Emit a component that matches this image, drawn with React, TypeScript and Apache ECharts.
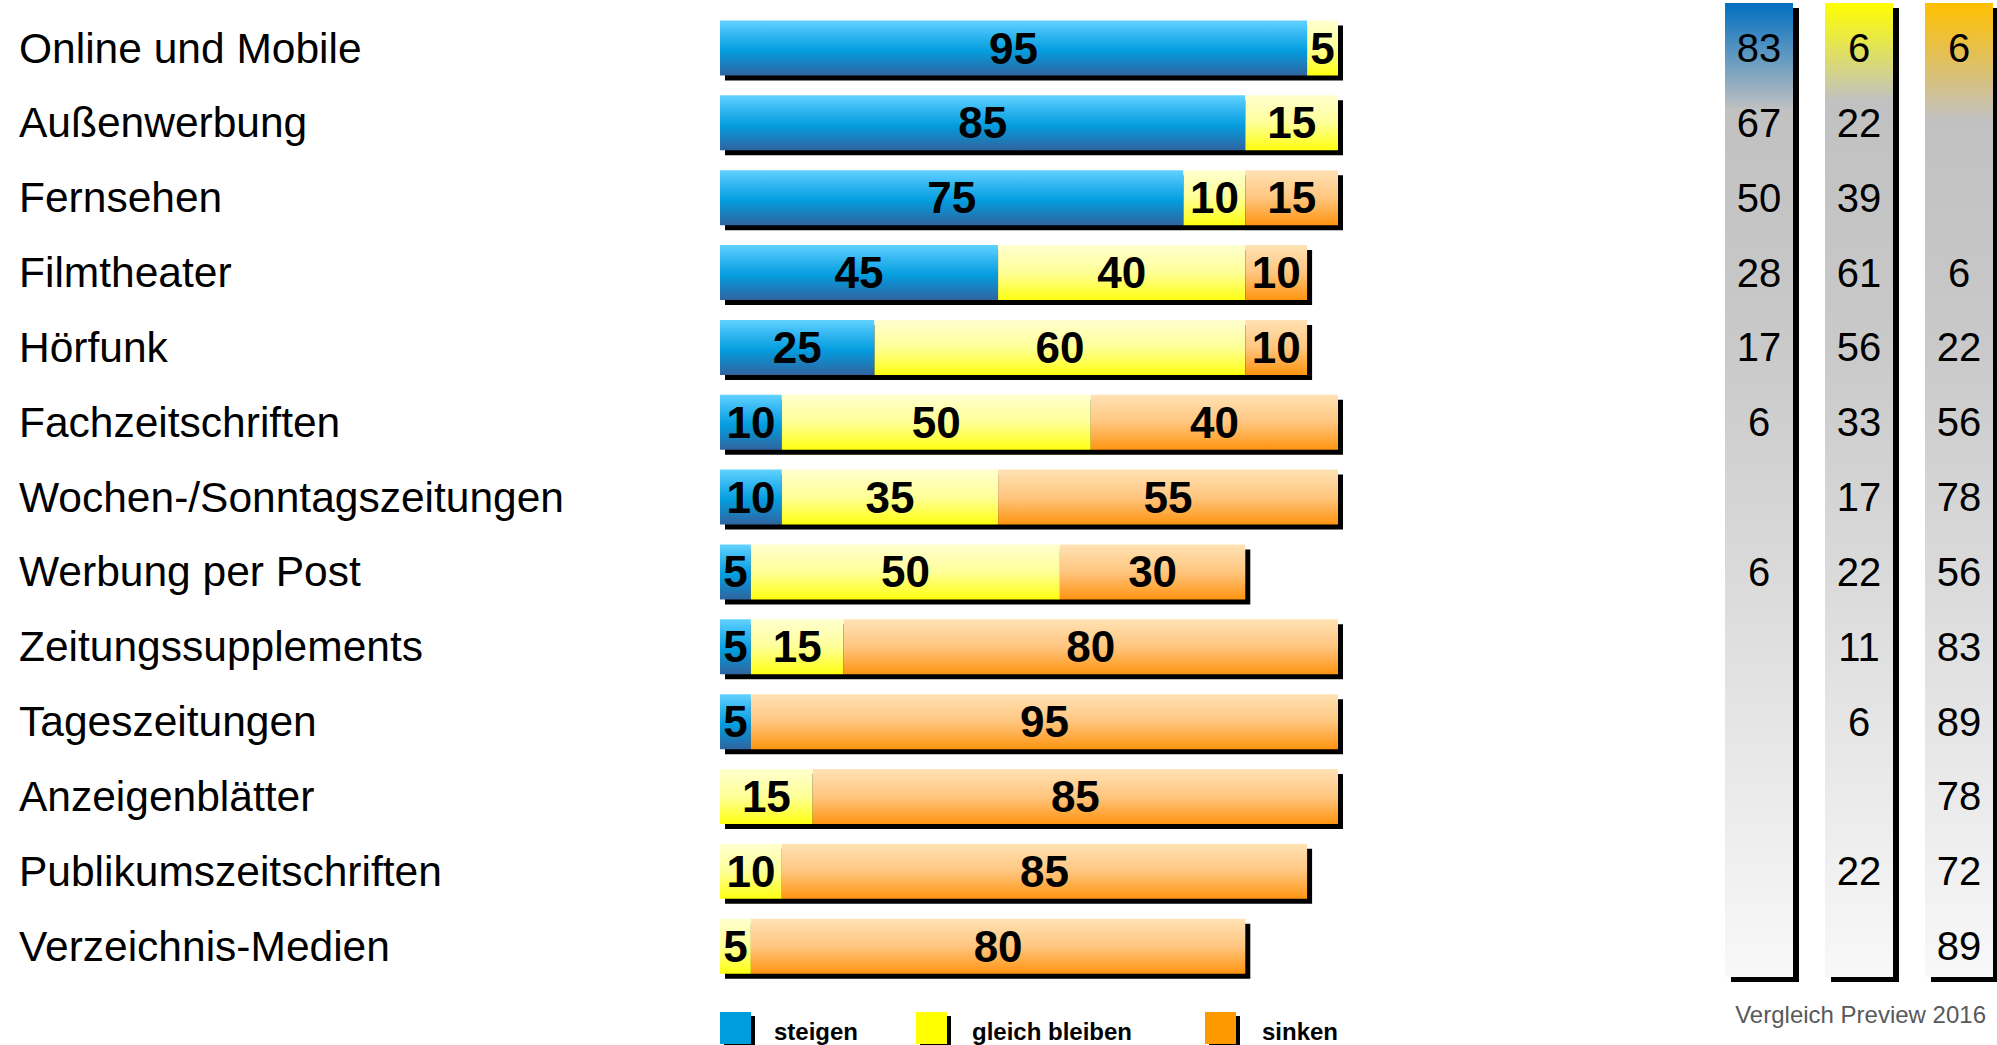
import React, { useEffect, useRef } from "react";
import * as echarts from "echarts";

// Media categories, top to bottom
const categories = [
  "Online und Mobile",
  "Außenwerbung",
  "Fernsehen",
  "Filmtheater",
  "Hörfunk",
  "Fachzeitschriften",
  "Wochen-/Sonntagszeitungen",
  "Werbung per Post",
  "Zeitungssupplements",
  "Tageszeitungen",
  "Anzeigenblätter",
  "Publikumszeitschriften",
  "Verzeichnis-Medien",
];

// Current outlook (%)
const steigen = [95, 85, 75, 45, 25, 10, 10, 5, 5, 5, 0, 0, 0];
const gleichBleiben = [5, 15, 10, 40, 60, 50, 35, 50, 15, 0, 15, 10, 5];
const sinken = [0, 0, 15, 10, 10, 40, 55, 30, 80, 95, 85, 85, 80];

// Comparison: Preview 2016 (%), null = no value
const previewColumns = ["steigen", "gleich bleiben", "sinken"];
const preview2016Steigen = [83, 67, 50, 28, 17, 6, null, 6, null, null, null, null, null];
const preview2016Gleich = [6, 22, 39, 61, 56, 33, 17, 22, 11, 6, null, 22, null];
const preview2016Sinken = [6, null, null, 6, 22, 56, 78, 56, 83, 89, 78, 72, 89];

const legendLabels = ["steigen", "gleich bleiben", "sinken"];
const footnote = "Vergleich Preview 2016";

const W = 1997;
const H = 1045;
const GRID_TOP = 10.6;
const GRID_HEIGHT = 973;
const BAR_W = 55;
const SHADOW = 5;

const SANS = "'Liberation Sans', Arial, sans-serif";
const NARROW = "'Liberation Sans Narrow', 'Arial Narrow', sans-serif";

const vGrad = (stops: [number, string][]) =>
  new echarts.graphic.LinearGradient(
    0,
    0,
    0,
    1,
    stops.map(([offset, color]) => ({ offset, color }))
  );

const blueFill = () =>
  vGrad([
    [0, "#62d2ff"],
    [0.25, "#34b8f2"],
    [0.55, "#049ddf"],
    [1, "#2f649f"],
  ]);
const yellowFill = () =>
  vGrad([
    [0, "#ffffd0"],
    [0.5, "#ffff98"],
    [1, "#ffff10"],
  ]);
const orangeFill = () =>
  vGrad([
    [0, "#ffe2b4"],
    [0.5, "#ffc680"],
    [1, "#ff9410"],
  ]);

const barLabel = {
  show: true,
  position: "inside" as const,
  color: "#000",
  fontFamily: NARROW,
  fontWeight: "bold" as const,
  fontSize: 44,
  formatter: (p: any) => (p.value > 0 ? String(p.value) : ""),
};

function buildOption() {
  const totals = categories.map((_, i) => [i, steigen[i] + gleichBleiben[i] + sinken[i]]);

  const previewPoints = (col: string, vals: (number | null)[]) =>
    vals
      .map((v, i) => (v == null ? null : [col, categories[i], v]))
      .filter((d) => d != null);

  // Comparison column panels
  const colX = [1725, 1825, 1925];
  const colTops: [string, number][] = [
    ["#0070c0", 0.11],
    ["#ffff00", 0.1],
    ["#ffc000", 0.12],
  ];
  const panels: any[] = [];
  colX.forEach((x, i) => {
    panels.push({
      type: "rect",
      z: 0,
      shape: { x: x + 6, y: 3 + SHADOW, width: 68, height: 974 },
      style: { fill: "#000" },
    });
    panels.push({
      type: "rect",
      z: 1,
      shape: { x, y: 3, width: 68, height: 974 },
      style: {
        fill: vGrad([
          [0, colTops[i][0]],
          [colTops[i][1], "#c1c1c1"],
          [0.35, "#c9c9c9"],
          [1, "#f8f8f8"],
        ]),
      },
    });
  });

  // Legend
  const legendPos = [
    { x: 720, tx: 774, fill: "#009ddc" },
    { x: 916, tx: 972, fill: "#ffff00" },
    { x: 1205, tx: 1262, fill: "#ff9900" },
  ];
  const legendEls: any[] = [];
  legendPos.forEach((l, i) => {
    legendEls.push({
      type: "rect",
      shape: { x: l.x + 4, y: 1016, width: 31, height: 32 },
      style: { fill: "#000" },
    });
    legendEls.push({
      type: "rect",
      shape: { x: l.x, y: 1012, width: 31, height: 32 },
      style: { fill: l.fill },
    });
    legendEls.push({
      type: "text",
      x: l.tx,
      y: 1031,
      style: {
        text: legendLabels[i],
        fontFamily: NARROW,
        fontWeight: "bold",
        fontSize: 24,
        fill: "#000",
        verticalAlign: "middle",
        align: "left",
      },
    });
  });

  return {
    animation: false,
    backgroundColor: "#fff",
    grid: [
      { left: 720, top: GRID_TOP, width: 618, height: GRID_HEIGHT },
      { left: 1759, top: GRID_TOP, width: 200, height: GRID_HEIGHT },
    ],
    xAxis: [
      { type: "value", gridIndex: 0, min: 0, max: 100, show: false },
      {
        type: "category",
        gridIndex: 1,
        data: previewColumns,
        boundaryGap: false,
        show: false,
      },
    ],
    yAxis: [
      {
        type: "category",
        gridIndex: 0,
        data: categories,
        inverse: true,
        axisLine: { show: false },
        axisTick: { show: false },
        splitLine: { show: false },
        axisLabel: {
          align: "left",
          margin: 701,
          color: "#000",
          fontFamily: SANS,
          fontSize: 42.5,
        },
      },
      {
        type: "category",
        gridIndex: 1,
        data: categories,
        inverse: true,
        show: false,
      },
    ],
    series: [
      {
        type: "custom",
        name: "shadow",
        xAxisIndex: 0,
        yAxisIndex: 0,
        z: 1,
        silent: true,
        encode: { x: 1, y: 0 },
        data: totals,
        renderItem: (_params: any, api: any) => {
          const idx = api.value(0);
          const total = api.value(1);
          const start = api.coord([0, idx]);
          const end = api.coord([total, idx]);
          return {
            type: "rect",
            shape: {
              x: start[0] + SHADOW,
              y: start[1] - BAR_W / 2 + SHADOW,
              width: end[0] - start[0],
              height: BAR_W,
            },
            style: { fill: "#000" },
          };
        },
      },
      {
        type: "bar",
        name: "steigen",
        stack: "total",
        barWidth: BAR_W,
        z: 2,
        data: steigen,
        itemStyle: { color: blueFill() },
        label: barLabel,
      },
      {
        type: "bar",
        name: "gleich bleiben",
        stack: "total",
        barWidth: BAR_W,
        z: 2,
        data: gleichBleiben,
        itemStyle: { color: yellowFill() },
        label: barLabel,
      },
      {
        type: "bar",
        name: "sinken",
        stack: "total",
        barWidth: BAR_W,
        z: 2,
        data: sinken,
        itemStyle: { color: orangeFill() },
        label: barLabel,
      },
      ...[preview2016Steigen, preview2016Gleich, preview2016Sinken].map((vals, ci) => ({
        type: "scatter",
        name: "Preview 2016 " + previewColumns[ci],
        xAxisIndex: 1,
        yAxisIndex: 1,
        z: 5,
        symbol: "rect",
        symbolSize: 1,
        itemStyle: { color: "transparent", opacity: 1 },
        data: previewPoints(previewColumns[ci], vals),
        label: {
          show: true,
          position: "inside",
          color: "#000",
          opacity: 1,
          fontFamily: SANS,
          fontSize: 40,
          formatter: (p: any) => String(p.value[2]),
        },
      })),
    ],
    graphic: [
      ...panels,
      ...legendEls,
      {
        type: "text",
        x: 1986,
        y: 1014,
        z: 5,
        style: {
          text: footnote,
          fontFamily: SANS,
          fontSize: 24,
          fill: "#595959",
          align: "right",
          verticalAlign: "middle",
        },
      },
    ],
  };
}

export default function App() {
  const ref = useRef<HTMLDivElement>(null);

  useEffect(() => {
    document.body.style.margin = "0";
    if (!ref.current) return;
    const chart = echarts.init(ref.current, undefined, { renderer: "svg" });
    chart.setOption(buildOption() as any);
    return () => chart.dispose();
  }, []);

  return (
    <div
      ref={ref}
      style={{ position: "absolute", left: 0, top: 0, width: W, height: H }}
    />
  );
}
